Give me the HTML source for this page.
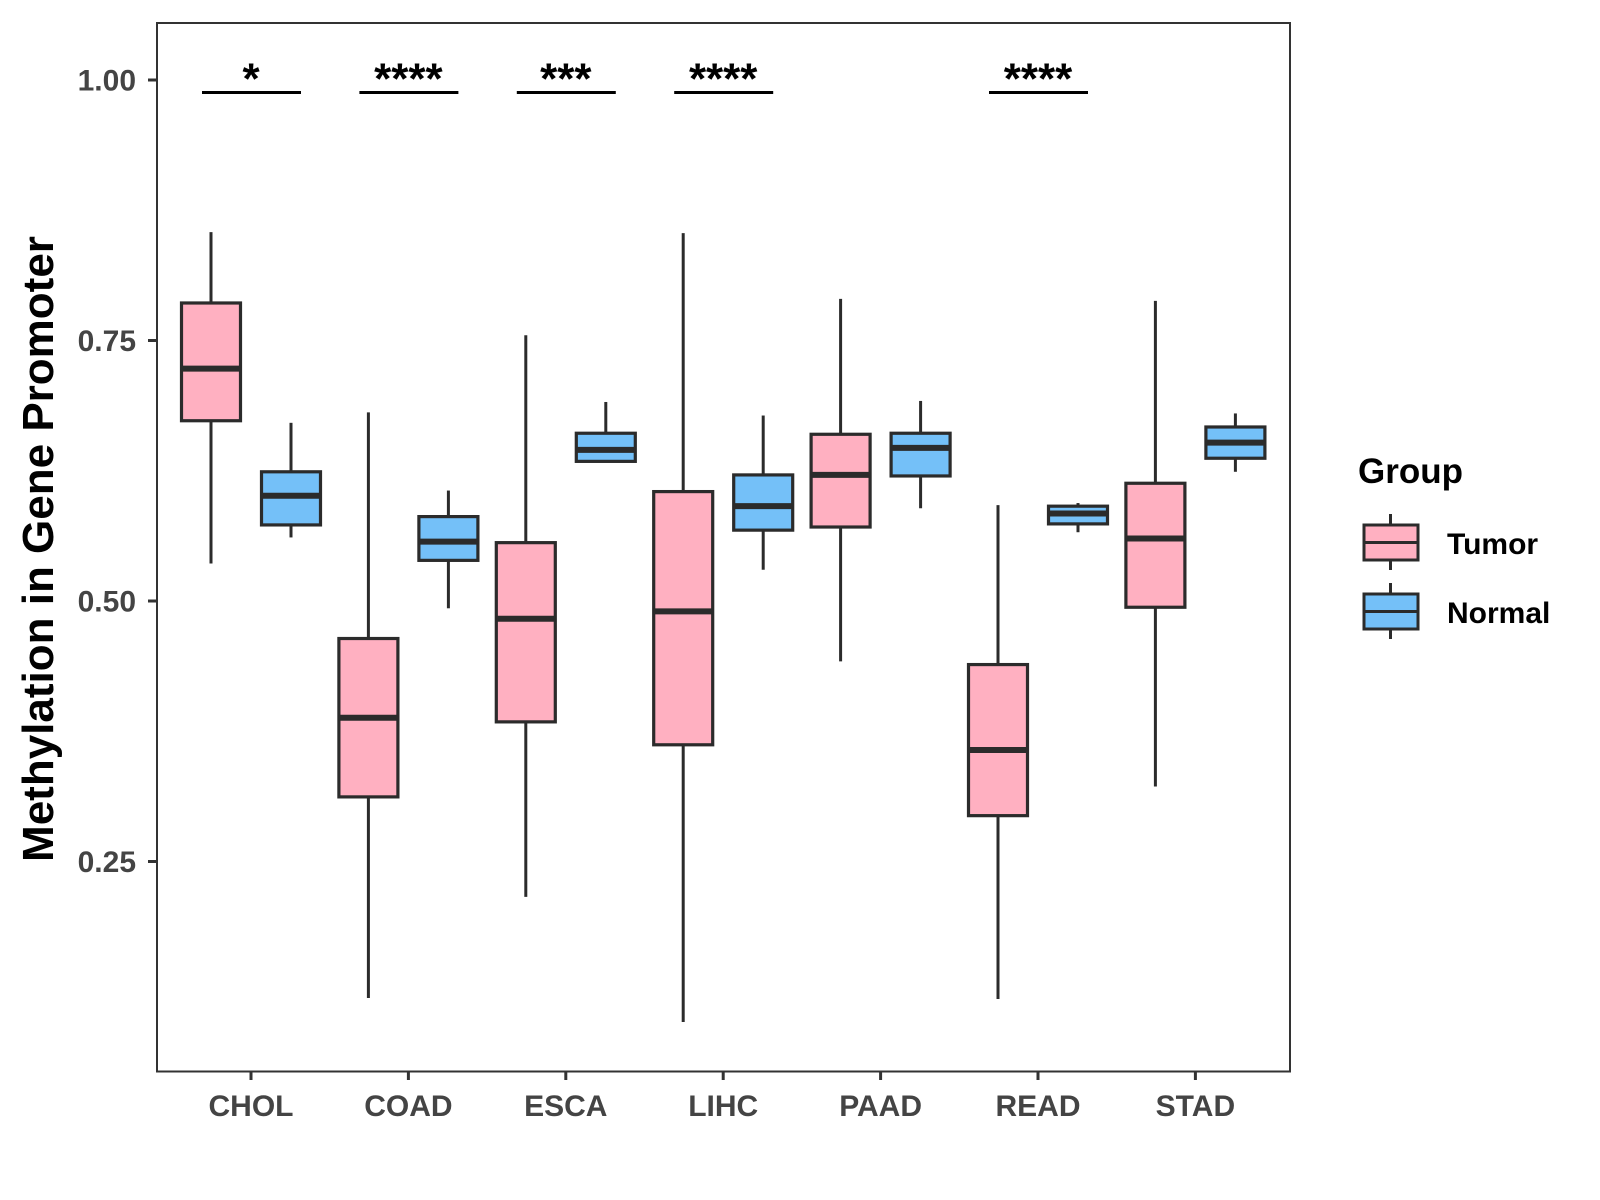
<!DOCTYPE html>
<html><head><meta charset="utf-8"><style>
html,body{margin:0;padding:0;background:#fff;}
svg{display:block;font-family:"Liberation Sans",Arial,sans-serif;font-weight:bold;}
</style></head><body>
<svg id="chart" width="1600" height="1200" viewBox="0 0 1600 1200">
<rect x="0" y="0" width="1600" height="1200" fill="#fff"/>
<g id="plot"></g>
<rect x="157" y="23" width="1133" height="1048.5" fill="none" stroke="#333" stroke-width="2"/>
<text transform="translate(53,549) rotate(-90)" text-anchor="middle" font-size="44" fill="#000">Methylation in Gene Promoter</text>
<g>
<text x="1358" y="483" font-size="35" fill="#000">Group</text>
<g>
<line x1="1390.5" y1="514" x2="1390.5" y2="570" stroke="#2b2b2b" stroke-width="3"/>
<rect x="1364" y="525" width="54" height="35" fill="#FFB0C1" stroke="#2b2b2b" stroke-width="3"/>
<line x1="1364" y1="542.5" x2="1418" y2="542.5" stroke="#2b2b2b" stroke-width="3"/>
<text x="1447" y="554" font-size="30" fill="#000">Tumor</text>
</g>
<g>
<line x1="1390.5" y1="583" x2="1390.5" y2="639" stroke="#2b2b2b" stroke-width="3"/>
<rect x="1364" y="594" width="54" height="35" fill="#74C0F8" stroke="#2b2b2b" stroke-width="3"/>
<line x1="1364" y1="611.5" x2="1418" y2="611.5" stroke="#2b2b2b" stroke-width="3"/>
<text x="1447" y="623" font-size="30" fill="#000">Normal</text>
</g>
</g>
</svg>
<script>
const categories = ["CHOL","COAD","ESCA","LIHC","PAAD","READ","STAD"];
// [lower whisker, Q1, median, Q3, upper whisker]
const tumorStats = [
 [0.536,0.673,0.723,0.786,0.854],
 [0.119,0.312,0.388,0.464,0.681],
 [0.216,0.384,0.483,0.556,0.755],
 [0.096,0.362,0.490,0.605,0.853],
 [0.442,0.571,0.621,0.660,0.790],
 [0.118,0.294,0.357,0.439,0.592],
 [0.322,0.494,0.560,0.613,0.788]
];
const normalStats = [
 [0.561,0.573,0.601,0.624,0.671],
 [0.493,0.539,0.557,0.581,0.606],
 [0.634,0.634,0.645,0.661,0.691],
 [0.530,0.568,0.591,0.621,0.678],
 [0.589,0.620,0.647,0.661,0.692],
 [0.566,0.574,0.584,0.591,0.594],
 [0.624,0.637,0.652,0.667,0.680]
];
const significance = ["*","****","***","****","","****",""];
const yTicks = [0.25,0.50,0.75,1.00];
const yTickLabels = ["0.25","0.50","0.75","1.00"];
const sigLevel = 0.988;

const NS="http://www.w3.org/2000/svg";
const plot=document.getElementById('plot');
const svg=document.getElementById('chart');
const xScale = i => 251 + i*157.4;
const yScale = v => 80 + (1 - v)*1042;
function mk(tag, attrs, parent){const e=document.createElementNS(NS,tag);for(const k in attrs)e.setAttribute(k,attrs[k]);(parent||plot).appendChild(e);return e;}

function drawBox(s, cx, fill, name){
  const g=mk('g',{});
  
  
  const hw=29.5;
  mk('line',{x1:cx,x2:cx,y1:yScale(s[4]),y2:yScale(s[3]),stroke:'#2b2b2b','stroke-width':3},g);
  mk('line',{x1:cx,x2:cx,y1:yScale(s[1]),y2:yScale(s[0]),stroke:'#2b2b2b','stroke-width':3},g);
  mk('rect',{x:cx-hw,y:yScale(s[3]),width:hw*2,height:Math.max(0.5,yScale(s[1])-yScale(s[3])),fill:fill,stroke:'#2b2b2b','stroke-width':3.2},g);
  mk('line',{x1:cx-hw,x2:cx+hw,y1:yScale(s[2]),y2:yScale(s[2]),stroke:'#2b2b2b','stroke-width':6},g);
}

categories.forEach((c,i)=>{
  const cx=xScale(i);
  drawBox(tumorStats[i], cx-40, '#FFB0C1', 'box-tumor-'+c.toLowerCase());
  drawBox(normalStats[i], cx+40, '#74C0F8', 'box-normal-'+c.toLowerCase());
  const t=mk('line',{x1:cx,x2:cx,y1:1072,y2:1080,stroke:'#333','stroke-width':3},svg);
  
  
  const l=mk('text',{x:cx,y:1116,'text-anchor':'middle','font-size':30,fill:'#444'},svg);
  l.textContent=c;
  
  
  if(significance[i]){
    const y=yScale(sigLevel);
    const sl=mk('line',{x1:cx-49,x2:cx+50,y1:y,y2:y,stroke:'#000','stroke-width':3},svg);
    
    
    const st=mk('text',{x:cx,y:y+1,'text-anchor':'middle','font-size':44,fill:'#000'},svg);
    st.textContent=significance[i];
    
    
  }
});
yTicks.forEach((v,i)=>{
  const y=yScale(v);
  const t=mk('line',{x1:148,x2:157,y1:y,y2:y,stroke:'#333','stroke-width':3},svg);
  
  
  const l=mk('text',{x:136,y:y+10.5,'text-anchor':'end','font-size':30,fill:'#444'},svg);
  l.textContent=yTickLabels[i];
  
  
});
</script>
</body></html>
